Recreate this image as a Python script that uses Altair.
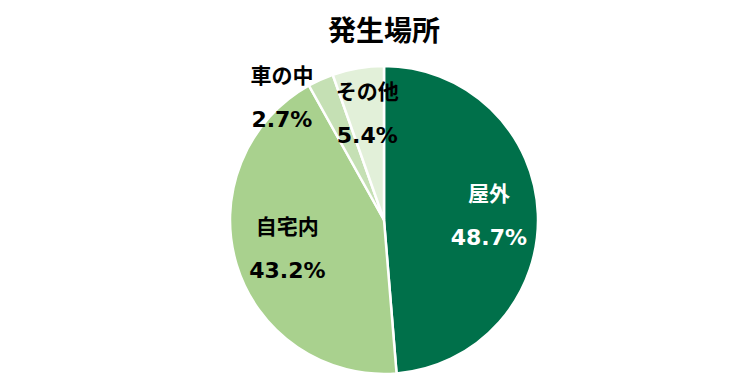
import math
import altair as alt
import pandas as pd

categories = ["屋外", "自宅内", "車の中", "その他"]
values = [48.7, 43.2, 2.7, 5.4]
pct_labels = ["48.7%", "43.2%", "2.7%", "5.4%"]
colors = ["#00704A", "#A9D18E", "#C5E0B4", "#E2F0D9"]
text_colors = ["#FFFFFF", "#000000", "#000000", "#000000"]
# label layout: radius in px and angular shift (in % units)
label_radius = [105, 101, 159, 107]
label_shift = [0.0, 0.0, -4.35, 0.2]

df = pd.DataFrame({"cat": categories, "val": values, "pct": pct_labels,
                   "order": list(range(len(categories))),
                   "tcolor": text_colors, "lr": label_radius})
cum = df["val"].cumsum()
df["lpos"] = cum - df["val"] / 2 + pd.Series(label_shift)

CX, CY, R = 384, 220, 154

base = alt.Chart(df)

arcs = base.mark_arc(outerRadius=R, stroke="white", strokeWidth=2.5).encode(
    theta=alt.Theta("val:Q", stack=True),
    order=alt.Order("order:Q"),
    color=alt.Color("cat:N", scale=alt.Scale(domain=categories, range=colors), legend=None),
    x=alt.value(CX), y=alt.value(CY),
)

theta_lbl = alt.Theta("lpos:Q", stack=None, scale=alt.Scale(domain=[0, 100], range=[0, 2 * math.pi]))

names = base.mark_text(font="Noto Sans CJK JP", fontWeight="bold", fontSize=21, dy=-21,
                       align="center", baseline="middle").encode(
    theta=theta_lbl,
    radius=alt.Radius("lr:Q", scale=None),
    text="cat:N",
    color=alt.Color("tcolor:N", scale=None),
    x=alt.value(CX), y=alt.value(CY),
)

pcts = base.mark_text(font="DejaVu Sans", fontWeight="bold", fontSize=22, dy=22,
                      align="center", baseline="middle").encode(
    theta=theta_lbl,
    radius=alt.Radius("lr:Q", scale=None),
    text="pct:N",
    color=alt.Color("tcolor:N", scale=None),
    x=alt.value(CX), y=alt.value(CY),
)

title = alt.Chart(pd.DataFrame({"t": ["発生場所"]})).mark_text(
    font="Noto Sans CJK JP", fontWeight="bold", fontSize=28, color="#000000",
    align="center", baseline="middle").encode(
    text="t:N", x=alt.value(CX), y=alt.value(33))

chart = alt.layer(arcs, names, pcts, title).properties(
    width=750, height=376, autosize=alt.AutoSizeParams(type="none"), padding=0
).configure_view(stroke=None)

chart.save("out.html", embed_options={"renderer": "svg", "actions": False})
